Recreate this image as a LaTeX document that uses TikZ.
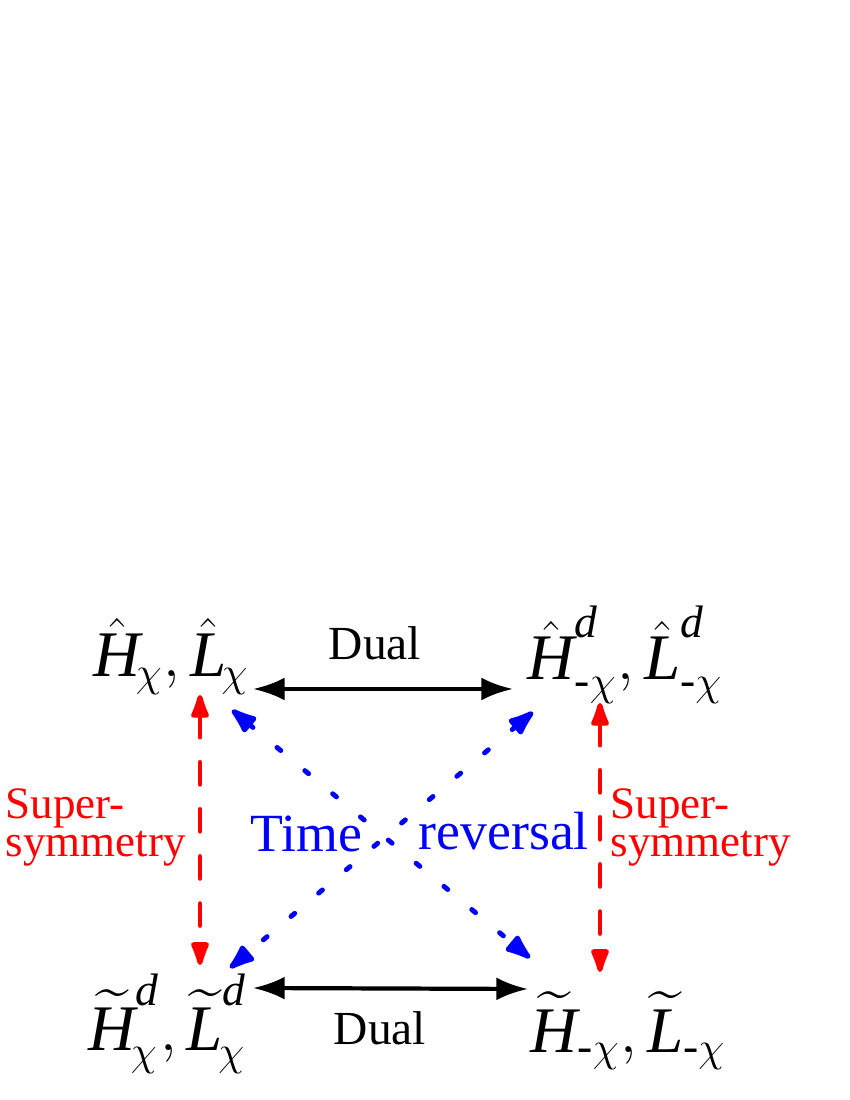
\documentclass[tikz,border=0pt]{standalone}
\usepackage{amsmath}
\usepackage{fontspec}
\setmainfont{Liberation Serif}
\usetikzlibrary{arrows.meta}
\newcommand{\chix}{\mkern-2mu\chi}
\newcommand{\mchix}{\text{-}\chi}
\newcommand{\iH}{\text{\itshape H}}
\newcommand{\iL}{\text{\itshape L}}
\newcommand{\id}{\text{\itshape d}}
\tikzset{
  lbl/.style={inner sep=0pt,anchor=base west,font=\fontsize{18.5}{20}\selectfont},
  dualarr/.style={line width=1.2pt,{Latex[length=9pt,width=6.5pt]}-{Latex[length=9pt,width=6.5pt]}},
  susyarr/.style={red,line width=1.4pt,line cap=round,dash pattern=on 6.2pt off 7.2pt,{Latex[length=9pt,width=6pt,round]}-{Latex[length=9pt,width=6pt,round]}},
  timearr/.style={blue,line width=1.4pt,line cap=round,dash pattern=on 1.4pt off 8.9pt,{Latex[length=9.5pt,width=6.5pt,round]}-{Latex[length=9.5pt,width=6.5pt,round]}},
  redtxt/.style={red,inner sep=0pt,anchor=north west,align=left,font=\fontsize{12.8}{10.8}\selectfont},
}
\begin{document}
\begin{tikzpicture}
\useasboundingbox (0,0) rectangle (8.5,11);
% the four operators
\node[lbl] (tl) at (0.93,4.23) {$\hat{\iH}_{\chix}, \hat{\iL}_{\chix}$};
\node[lbl] (tr) at (5.27,4.20) {$\hat{\iH}^{\id}_{\mchix}, \hat{\iL}^{\id}_{\mchix}$};
\node[lbl] (bl) at (0.88,0.50) {$\widetilde{\iH}^{\id}_{\chix}, \widetilde{\iL}^{\id}_{\chix}$};
\node[lbl] (br) at (5.30,0.48) {$\widetilde{\iH}_{\mchix}, \widetilde{\iL}_{\mchix}$};
% labels
\node[font=\fontsize{13.5}{15}\selectfont] (dualT) at (3.75,4.57) {Dual};
\node[font=\fontsize{13.5}{15}\selectfont] (dualB) at (3.80,0.72) {Dual};
\node[redtxt] (susyL) at (0.05,3.12) {Super-\\symmetry};
\node[redtxt] (susyR) at (6.10,3.12) {Super-\\symmetry};
\node[blue,inner sep=0pt,anchor=base west,font=\fontsize{15.3}{17}\selectfont] (time) at (2.50,2.48) {Time};
\node[blue,inner sep=0pt,anchor=base west,font=\fontsize{15.3}{17}\selectfont] (rev) at (4.18,2.50) {reversal};
% dual
\draw[dualarr] ([shift={(1.60,-0.12)}]tl.base west) -- ([shift={(-0.14,-0.09)}]tr.base west);
\draw[dualarr] ([shift={(1.65,0.62)}]bl.base west) -- ([shift={(-0.02,0.63)}]br.base west);
% supersymmetry
\draw[susyarr] ([shift={(1.07,-0.18)}]tl.base west) -- ([shift={(1.12,0.85)}]bl.base west);
\draw[susyarr] ([shift={(0.73,-0.23)}]tr.base west) -- ([shift={(0.70,0.80)}]br.base west);
% time reversal
\draw[timearr] ([shift={(1.39,-0.33)}]tl.base west) -- ([shift={(0.00,0.94)}]br.base west);
\draw[timearr] ([shift={(0.06,-0.32)}]tr.base west) -- ([shift={(1.42,0.82)}]bl.base west);
\end{tikzpicture}
\end{document}
